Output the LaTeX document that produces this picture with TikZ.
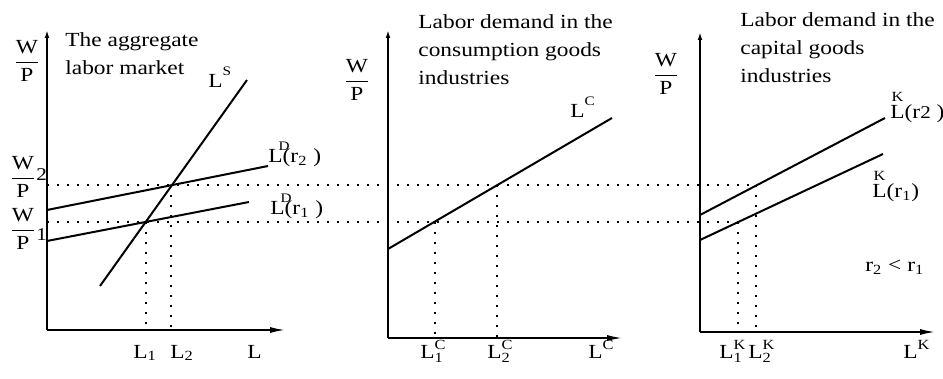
\documentclass[tikz,border=0pt]{standalone}
\usepackage{amsmath}
\usepackage{fontspec}
\setmainfont{Liberation Serif}[FakeStretch=1.17]
\usetikzlibrary{arrows.meta}
\newcommand{\hiup}[1]{\raisebox{6pt}{\fontsize{6.5}{7}\selectfont #1}}
\tikzset{
  curve/.style={line width=1pt},
  guide/.style={line width=0.6pt,dash pattern=on 0.8pt off 4.2pt},
  yaxis/.style={line width=1pt,-{Latex[length=4pt,width=2.4pt]}},
  xaxis/.style={line width=1pt,-{Latex[length=8pt,width=3pt]}},
  lbl/.style={inner sep=0pt,font=\fontsize{10}{14}\selectfont},
}

\begin{document}
\begin{tikzpicture}[x=0.5pt,y=-0.5pt]
  \useasboundingbox (0,0) rectangle (943,379);

  % the aggregate labor market
  \coordinate (o1) at (47,330);
  \coordinate (y1) at (47,30);
  \coordinate (x1) at (286,330);
  \coordinate (s0) at (100,286);
  \coordinate (s1) at (247,80);
  \coordinate (da0) at (47,210);
  \coordinate (da1) at (268,166);
  \coordinate (db0) at (47,241);
  \coordinate (db1) at (249,202);
  \coordinate (e1) at (146,222);
  \coordinate (e2) at (171,185);
  \coordinate (f1) at (146,330);
  \coordinate (f2) at (171,330);
  \coordinate (w1) at (47,222);
  \coordinate (w2) at (47,185);

  % consumption goods
  \coordinate (o2) at (388,338);
  \coordinate (y2) at (388,30);
  \coordinate (x2) at (623,338);
  \coordinate (c0) at (388,249);
  \coordinate (c1) at (612,118);
  \coordinate (g1) at (435,222);
  \coordinate (g2) at (497,185);
  \coordinate (gf1) at (435,338);
  \coordinate (gf2) at (497,338);

  % capital goods
  \coordinate (o3) at (700,332);
  \coordinate (y3) at (700,32);
  \coordinate (x3) at (936,332);
  \coordinate (ka0) at (700,215);
  \coordinate (ka1) at (885,118);
  \coordinate (kb0) at (700,240);
  \coordinate (kb1) at (883,154);
  \coordinate (h1) at (738,222);
  \coordinate (h2) at (756,185);
  \coordinate (hf1) at (738,332);
  \coordinate (hf2) at (756,332);

  \draw[guide] (w2) -- (h2);
  \draw[guide] (w1) -- (h1);
  \draw[guide] (e1) -- (f1);
  \draw[guide] (e2) -- (f2);
  \draw[guide] (g1) -- (gf1);
  \draw[guide] (g2) -- (gf2);
  \draw[guide] (h1) -- (hf1);
  \draw[guide] (h2) -- (hf2);

  \draw[yaxis] (o1) -- (y1);
  \draw[xaxis] (o1) -- (x1);
  \draw[yaxis] (o2) -- (y2);
  \draw[xaxis] (o2) -- (x2);
  \draw[yaxis] (o3) -- (y3);
  \draw[xaxis] (o3) -- (x3);

  \draw[curve] (s0) -- (s1);
  \draw[curve] (da0) -- (da1);
  \draw[curve] (db0) -- (db1);
  \draw[curve] (c0) -- (c1);
  \draw[curve] (ka0) -- (ka1);
  \draw[curve] (kb0) -- (kb1);

  \node[lbl,anchor=north west,align=left] (t1) at (65,32) {The aggregate\\labor market};
  \node[lbl,anchor=north west,align=left] (t2) at (418,14) {Labor demand in the\\consumption goods\\industries};
  \node[lbl,anchor=north west,align=left] (t3) at (740,12) {Labor demand in the\\capital goods\\industries};

  \node[lbl] (wp1) at (27,61) {$\dfrac{\text{W}}{\text{P}}$};
  \node[lbl] (wp2) at (357,80) {$\dfrac{\text{W}}{\text{P}}$};
  \node[lbl] (wp3) at (666,74) {$\dfrac{\text{W}}{\text{P}}$};
  \node[lbl,anchor=west] (wpb) at (9,177) {$\dfrac{\text{W}}{\text{P}}$\raisebox{1.5pt}{\small 2}};
  \node[lbl,anchor=west] (wpa) at (9,229) {$\dfrac{\text{W}}{\text{P}}$\raisebox{-2.5pt}{\small 1}};

  \node[lbl,anchor=base west] (ls) at (208,88) {L\hiup{S}};
  \node[lbl,anchor=base west] (ldb) at (268,163) {L\rlap{\kern-2pt\hiup{D}}(r\textsubscript{2}\ )};
  \node[lbl,anchor=base west] (lda) at (270,215) {L\rlap{\kern-2pt\hiup{D}}(r\textsubscript{1}\ )};
  \node[lbl,anchor=base west] (lc) at (570,118) {L\hiup{C}};
  \node[lbl,anchor=base west] (lkb) at (890,119) {$\overset{\text{K}}{\text{L}}$(r{\small 2} )};
  \node[lbl,anchor=base west] (lka) at (872,198) {$\overset{\text{K}}{\text{L}}$(r\textsubscript{1})};
  \node[lbl,anchor=base west] (rr) at (865,272) {r\textsubscript{2} < r\textsubscript{1}};

  \node[lbl,anchor=base west] (l1) at (133,358) {L\textsubscript{1}};
  \node[lbl,anchor=base west] (l2) at (170,358) {L\textsubscript{2}};
  \node[lbl,anchor=base west] (lx1) at (247,358) {L};
  \node[lbl,anchor=base west] (lc1) at (420,358) {$\text{L}^{\text{C}}_{\text{1}}$};
  \node[lbl,anchor=base west] (lc2) at (487,358) {$\text{L}^{\text{C}}_{\text{2}}$};
  \node[lbl,anchor=base west] (lx2) at (588,358) {$\text{L}^{\text{C}}$};
  \node[lbl,anchor=base west] (lk1) at (719,358) {$\text{L}^{\text{K}}_{\text{1}}$};
  \node[lbl,anchor=base west] (lk2) at (748,358) {$\text{L}^{\text{K}}_{\text{2}}$};
  \node[lbl,anchor=base west] (lx3) at (903,358) {$\text{L}^{\text{K}}$};
\end{tikzpicture}
\end{document}
